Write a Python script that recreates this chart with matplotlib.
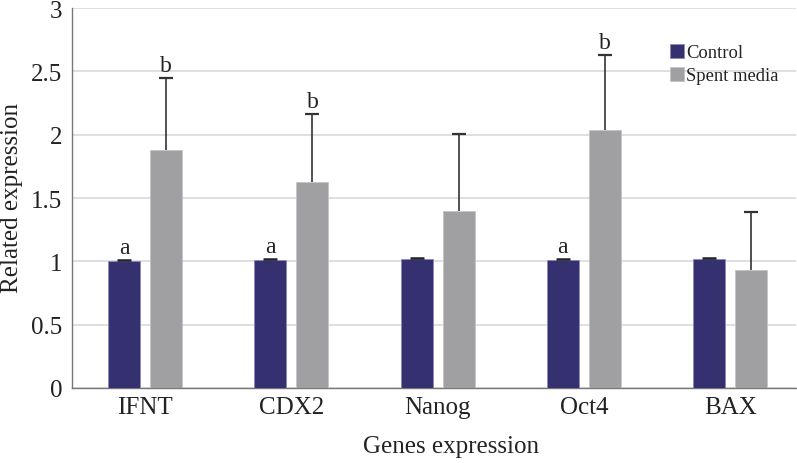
import matplotlib
matplotlib.use("Agg")
import matplotlib.pyplot as plt
import numpy as np

genes = ["IFNT", "CDX2", "Nanog", "Oct4", "BAX"]
control = [1.00, 1.01, 1.015, 1.01, 1.015]
control_err = [0.01, 0.01, 0.01, 0.01, 0.01]
spent = [1.88, 1.63, 1.395, 2.035, 0.93]
spent_err = [0.57, 0.53, 0.61, 0.595, 0.46]
control_letters = ["a", "a", "", "a", ""]
spent_letters = ["b", "b", "", "b", ""]

plt.rcParams['font.family'] = ['Liberation Serif', 'DejaVu Serif']

W, H = 797, 464
fig = plt.figure(figsize=(W/100, H/100), dpi=100)
ax_left, ax_right, ax_top, ax_bot = 72, 796, 9, 389
ax = fig.add_axes([ax_left/W, 1-ax_bot/H, (ax_right-ax_left)/W, (ax_bot-ax_top)/H])

x = np.arange(len(genes))
bw = 0.219
off = 0.144
c1 = "#35306f"
c2 = "#a0a0a2"
ax.bar(x-off, control, bw, color=c1, edgecolor="#8c88c0", linewidth=0.6, zorder=3, label="Control")
ax.bar(x+off, spent, bw, color=c2, edgecolor="#c4c4c6", linewidth=0.6, zorder=3, label="Spent media")

ctop = np.array(control) + np.array(control_err)
stop = np.array(spent) + np.array(spent_err)
ax.vlines(x-off, control, ctop, color="#222222", linewidth=1.2, zorder=4)
ax.vlines(x+off, spent, stop, color="#333333", linewidth=1.2, zorder=4)
ax.scatter(x-off, ctop, marker='_', s=110, color="#222222", linewidths=1.8, zorder=5)
ax.scatter(x+off, stop, marker='_', s=110, color="#333333", linewidths=1.6, zorder=5)

for i in range(len(genes)):
    if control_letters[i]:
        ax.annotate(control_letters[i], (x[i]-off, ctop[i]), xytext=(0, 5),
                    textcoords='offset points', ha='center', va='baseline', fontsize=17, color="#222222")
    if spent_letters[i]:
        ax.annotate(spent_letters[i], (x[i]+off, stop[i]), xytext=(0, 5),
                    textcoords='offset points', ha='center', va='baseline', fontsize=17, color="#222222")

ax.set_xlim(-0.5, 4.45)
ax.set_ylim(0, 3)
ax.set_yticks([0, 0.5, 1, 1.5, 2, 2.5, 3])
ax.set_yticklabels(["0", "0.5", "1", "1.5", "2", "2.5", "3"])
ax.set_xticks(x)
ax.set_xticklabels(genes)
ax.tick_params(axis='both', length=0, labelsize=18, colors="#222222")
ax.tick_params(axis='y', pad=7)
ax.tick_params(axis='x', pad=6)
ax.yaxis.grid(True, color="#d9d9d9", linewidth=1.2, zorder=0)
ax.set_axisbelow(True)
for s in ["top", "right"]:
    ax.spines[s].set_visible(False)
for s in ["left", "bottom"]:
    ax.spines[s].set_color("#777777")
    ax.spines[s].set_linewidth(1.0)

fig.text(451/W, 1-447/H, "Genes expression", ha='center', va='center', fontsize=18, color="#222222")
fig.text(12/W, 1-198/H, "Related expression", ha='center', va='center', rotation=90, fontsize=18, color="#222222")

leg = ax.legend(loc='upper left', bbox_to_anchor=(670/W, 1-45/H), bbox_transform=fig.transFigure,
                frameon=False, fontsize=13.4, handlelength=0.75, handleheight=0.75, handletextpad=0.1,
                borderpad=0, borderaxespad=0, labelspacing=0.3)
for t in leg.get_texts():
    t.set_color("#222222")

fig.savefig("out.png", dpi=100)
